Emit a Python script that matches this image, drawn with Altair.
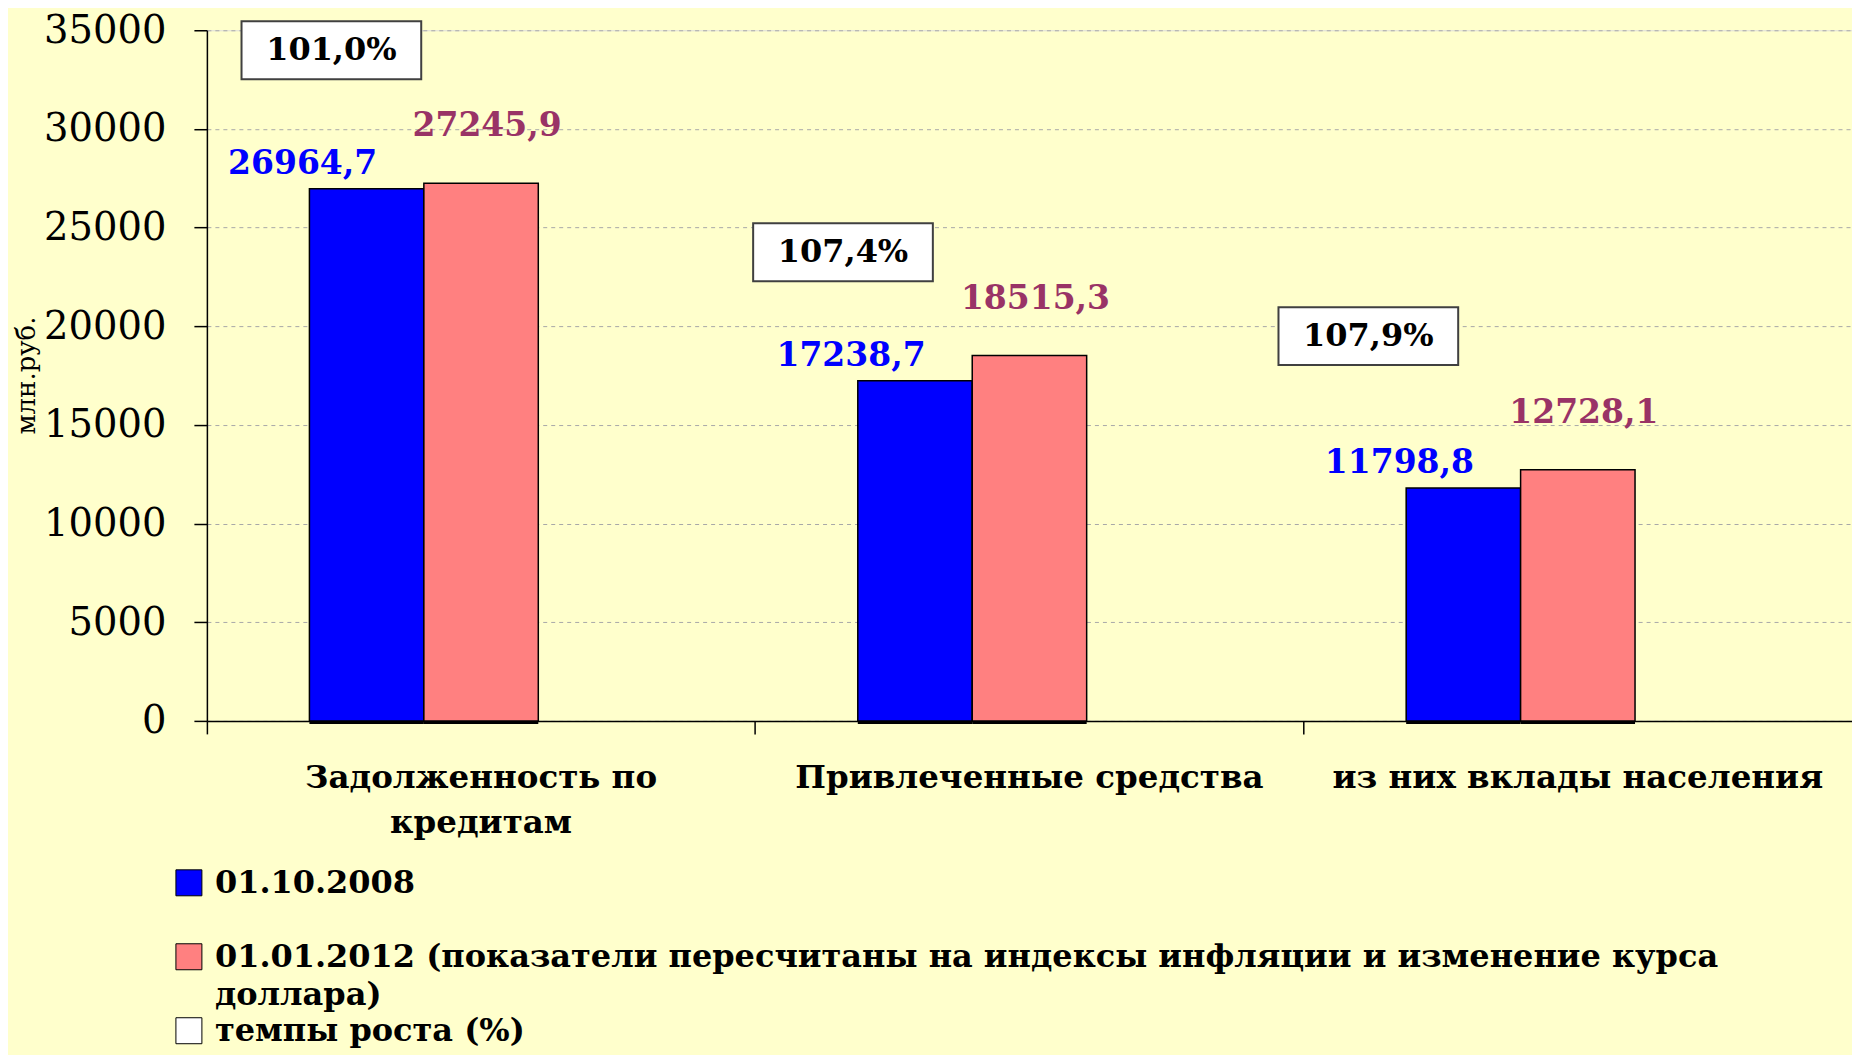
import altair as alt
import pandas as pd

# ---------------- data ----------------
categories = ["Задолженность по кредитам", "Привлеченные средства", "из них вклады населения"]
series = [
    "01.10.2008",
    "01.01.2012 (показатели пересчитаны на индексы  инфляции и изменение курса доллара)",
    "темпы роста (%)",
]
values_2008 = [26964.7, 17238.7, 11798.8]
values_2012 = [27245.9, 18515.3, 12728.1]
growth_rates = [101.0, 107.4, 107.9]
y_ticks = [0, 5000, 10000, 15000, 20000, 25000, 30000, 35000]

# placement of the growth-rate boxes (fraction of category step, level on the y scale)
box_band_pos = [0.227, 0.160, 0.118]
box_level = [33990, 23755, 19500]

rows = []
for c, v in zip(categories, values_2008):
    rows.append({"category": c, "series": series[0], "value": v})
for c, v in zip(categories, values_2012):
    rows.append({"category": c, "series": series[1], "value": v})
df = pd.DataFrame(rows)

W, H = 1646, 691
SERIF = "DejaVu Serif"

y_scale = alt.Scale(domain=[0, 35000], nice=False, zero=True)
x_scale = alt.Scale(domain=categories, paddingInner=0, paddingOuter=0)

y_axis = alt.Axis(
    values=y_ticks, format="d", title="млн.руб.",
    grid=True, gridDash=[4, 4], gridColor="#A8A8A8", gridWidth=1,
    domainColor="black", domainWidth=1.5, tickColor="black", tickWidth=1.5, tickSize=13,
    labelFont=SERIF, labelFontSize=38.5, labelColor="black", labelPadding=28,
    titleFont=SERIF, titleFontSize=26, titleFontWeight="normal", titleColor="black",
    titleX=-180, titleY=345, titleAlign="center", titleBaseline="middle", titleAngle=-90,
)
x_axis = alt.Axis(
    title=None, bandPosition=0, labelAngle=0,
    domainColor="black", domainWidth=1.5, tickColor="black", tickWidth=1.5, tickSize=13,
    labelFont=SERIF, labelFontSize=32.5, labelFontWeight="bold", labelColor="black",
    labelPadding=28, labelLineHeight=45, labelLimit=0, labelOverlap=False,
    labelBaseline="top",
    labelExpr="datum.label == 'Задолженность по кредитам' ? ['Задолженность по', 'кредитам'] : datum.label",
)


def xenc(band=None):
    if band is None:
        return alt.X("category:N", sort=categories, scale=x_scale, axis=x_axis)
    return alt.X("category:N", sort=categories, scale=x_scale, axis=x_axis, bandPosition=band)


def yenc(field="value"):
    return alt.Y(f"{field}:Q", scale=y_scale, axis=y_axis)


xoff = alt.XOffset("series:N", scale=alt.Scale(domain=series, paddingInner=0, paddingOuter=0.896))

base = alt.Chart(df)

shadow = base.mark_bar(color="black", xOffset=4, yOffset=3).encode(
    x=xenc(), xOffset=xoff, y=yenc()
)

bars = base.mark_bar(stroke="black", strokeWidth=1.5).encode(
    x=xenc(), xOffset=xoff, y=yenc(),
    color=alt.Color(
        "series:N",
        scale=alt.Scale(domain=series, range=["#0000FF", "#FF8080", "#FFFFFF"]),
        legend=alt.Legend(
            title=None, orient="none", legendX=-34, legendY=837, direction="vertical",
            symbolType="square", symbolSize=676, symbolStrokeColor="black", symbolStrokeWidth=1,
            labelFont=SERIF, labelFontWeight="bold", labelFontSize=32, labelColor="black",
            labelLimit=0, labelOffset=10, rowPadding=4, padding=0, labelBaseline="middle",
            gridAlign="all",
            labelExpr="length(datum.label) > 40 ? ['01.01.2012 (показатели пересчитаны на индексы  инфляции и изменение курса', 'доллара)'] : datum.label",
        ),
    ),
)

fmt = "replace(format(datum.value, '.1f'), '.', ',')"

labels_a = base.transform_filter(alt.datum.series == series[0]).transform_calculate(
    lbl=fmt
).mark_text(
    font=SERIF, fontWeight="bold", fontSize=33, color="#0000FF", baseline="bottom", dx=-64, dy=-8
).encode(x=xenc(), xOffset=xoff, y=yenc(), text="lbl:N")

labels_b = base.transform_filter(alt.datum.series == series[1]).transform_calculate(
    lbl=fmt
).mark_text(
    font=SERIF, fontWeight="bold", fontSize=33, color="#993366", baseline="bottom", dx=6, dy=-40
).encode(x=xenc(), xOffset=xoff, y=yenc(), text="lbl:N")

layers = [shadow, bars, labels_a, labels_b]

for cat, rate, bp, lvl in zip(categories, growth_rates, box_band_pos, box_level):
    bdf = pd.DataFrame([{"category": cat, "rate": rate, "value": lvl}])
    bb = alt.Chart(bdf)
    box = bb.mark_point(
        shape="M-3.1,-1H3.1V1H-3.1Z", size=3364, filled=True, fill="white", opacity=1,
        stroke="#404040", strokeWidth=2,
    ).encode(x=xenc(bp), y=yenc())
    txt = bb.transform_calculate(
        lbl="replace(format(datum.rate, '.1f'), '.', ',') + '%'"
    ).mark_text(
        font=SERIF, fontWeight="bold", fontSize=32, color="black", baseline="middle", align="center"
    ).encode(x=xenc(bp), y=yenc(), text="lbl:N")
    layers += [box, txt]

chart = alt.layer(*layers).properties(
    width=W, height=H,
    padding={"left": 6, "top": 3, "right": 0, "bottom": 8},
    background="#FFFFCC",
).configure_view(stroke=None).configure(
    style={"guide-label": {"lineHeight": 38}}
)

chart.save("out.html", embed_options={"renderer": "svg", "actions": False})
